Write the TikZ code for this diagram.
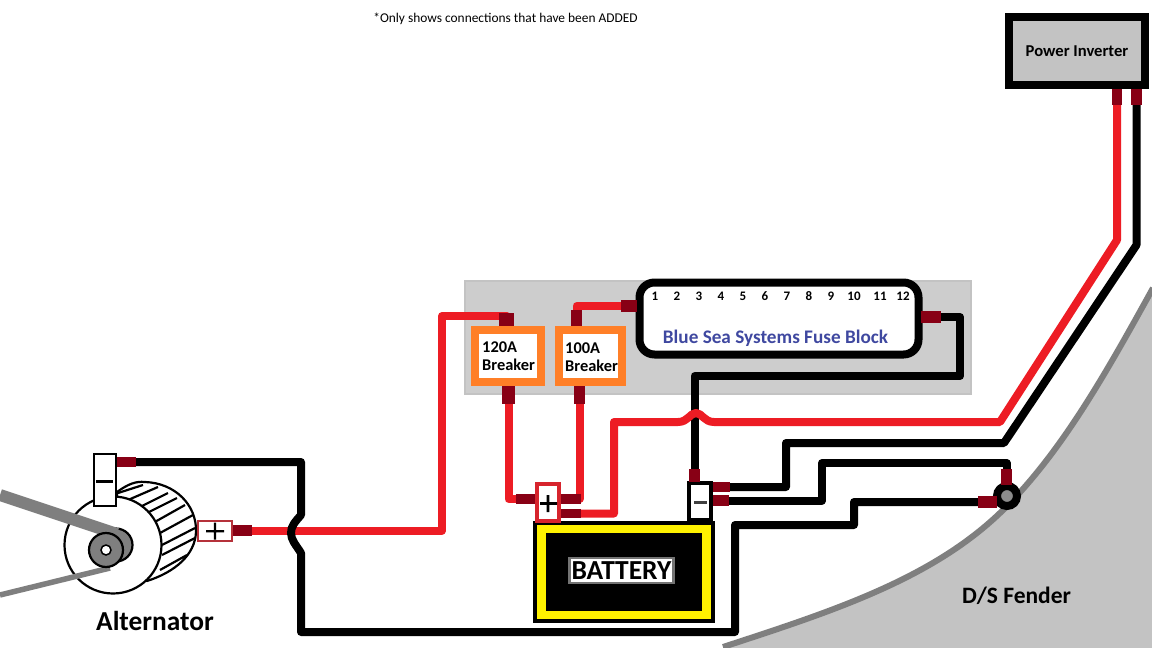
\documentclass[tikz,border=0pt]{standalone}
\usepackage{fontspec}
\setmainfont{Carlito}
\usetikzlibrary{calc}
\definecolor{termred}{HTML}{880015}
\definecolor{wirered}{HTML}{ED1C24}
\definecolor{panelgray}{HTML}{CDCDCD}
\definecolor{fendergray}{HTML}{C3C3C3}
\definecolor{banddark}{HTML}{7F7F7F}
\definecolor{brk}{HTML}{FF7F27}
\definecolor{fuseblue}{HTML}{3F48A0}
\definecolor{plusred}{HTML}{B5313A}
\pgfdeclarelayer{back}
\pgfdeclarelayer{wires}
\pgfsetlayers{back,wires,main}
\tikzset{
  term/.style={fill=termred,draw=none,inner sep=0pt,outer sep=0pt},
  redwire/.style={draw=wirered,line width=8pt,line join=round,line cap=round},
  blackwire/.style={draw=black,line width=8pt,line join=round,line cap=round},
  brkbox/.style={draw=brk,line width=8pt,fill=white,inner sep=0pt,outer sep=0pt},
  brktext/.style={font=\fontsize{16.4}{18.5}\selectfont\bfseries,align=left,inner sep=0pt,anchor=west},
  fusenum/.style={font=\fontsize{13}{13}\selectfont\bfseries,inner sep=0pt},
  hatch/.style={line width=2.2pt},
}
\newcommand{\termbox}[5]{\node[term,minimum width={(#4-#2)*1pt},minimum height={(#5-#3)*1pt}] (#1) at ({(#2+#4)/2},{(#3+#5)/2}) {};}
\begin{document}
\begin{tikzpicture}[x=1pt,y=-1pt]
\useasboundingbox (0,0) rectangle (1152,648);
% ---- background
\begin{pgfonlayer}{back}
\fill[white] (0,0) rectangle (1152,648);
\fill[fendergray] (723,648) .. controls (830,612) and (930,580) .. (1000,513) .. controls (1060,455) and (1105,375) .. (1153,288) -- (1153,649) -- (723,649) -- cycle;
\draw[banddark,line width=6pt] (723,647) .. controls (830,612) and (930,580) .. (1000,513) .. controls (1060,455) and (1105,375) .. (1153,288);
\node[draw=panelgray!95!black,fill=panelgray,line width=2pt,minimum width=506pt,minimum height=113pt,inner sep=0pt] (panel) at (718,337) {};
\end{pgfonlayer}
% ---- note
\node[font=\fontsize{13.4}{15}\selectfont,inner sep=0pt] (note) at (505.5,19) {*Only shows connections that have been ADDED};
% ---- power inverter
\node[draw=black,line width=8pt,fill=fendergray,minimum width=136pt,minimum height=68pt,inner sep=0pt,outer sep=0pt,font=\fontsize{16.6}{18}\selectfont\bfseries] (inv) at (1077,51) {\raisebox{-1pt}{Power Inverter}};
\termbox{invpos}{1112}{89}{1122}{105}
\termbox{invneg}{1131}{89}{1142}{105}
% ---- breakers
\node[brkbox,minimum width=66pt,minimum height=52pt] (b120) at (508,356) {};
\node[brktext] (b120t) at (482,356) {120A\\Breaker};
\node[brkbox,minimum width=63pt,minimum height=52pt] (b100) at (590.5,356) {};
\node[brktext] (b100t) at (565,357) {100A\\Breaker};
\termbox{b120top}{499}{313}{514}{326}
\termbox{b120bot}{502}{386}{515}{404}
\termbox{b100top}{571}{310}{582}{326}
\termbox{b100bot}{574}{386}{585}{404}
% ---- fuse block
\node[draw=black,line width=8pt,fill=white,rounded corners=15pt,minimum width=279pt,minimum height=72pt,inner sep=0pt,outer sep=0pt] (fuse) at (779,318.5) {};
\foreach \n/\xx in {1/655,2/677,3/699,4/721,5/743,6/765,7/787,8/809,9/831,10/854,11/880,12/903}
  \node[fusenum] (f\n) at (\xx,296) {\n};
\node[font=\fontsize{19.2}{21}\selectfont\bfseries,text=fuseblue,inner sep=0pt] (fuset) at (775.5,338) {Blue Sea Systems Fuse Block};
\termbox{fusein}{621}{300}{637}{312}
\termbox{fuseout}{921}{311}{941}{323}
% ---- battery
\node[draw=black,line width=4pt,fill=yellow,minimum width=178pt,minimum height=98pt,inner sep=0pt,outer sep=0pt] (batt) at (624,572) {};
\node[fill=black,minimum width=156pt,minimum height=78pt,inner sep=0pt] (battin) at (624,572) {};
\node[draw=black!55,line width=2.5pt,fill=white,minimum width=104pt,minimum height=25pt,inner sep=0pt,font=\fontsize{27.5}{29}\selectfont\bfseries] (battl) at (621.5,570.5) {BATTERY};
\node[draw=plusred!40!wirered,line width=4pt,fill=white,minimum width=22pt,minimum height=37pt,inner sep=0pt,outer sep=0pt] (bplus) at (548,502.5) {};
\fill[black] (546.7,495) rectangle (549.3,512) (540,502.2) rectangle (557,504.8);
\node[draw=black,line width=4pt,fill=white,minimum width=22pt,minimum height=37pt,inner sep=0pt,outer sep=0pt] (bminus) at (700,501.5) {};
\fill[black!75] (694,500.5) rectangle (707,503.5);
\termbox{bpL}{516}{494}{535}{504}
\termbox{bpR}{561}{494}{581}{504}
\termbox{bpR2}{561}{509}{581}{518}
\termbox{bmT}{689}{469}{700}{482}
\termbox{bmR}{713}{482}{730}{492}
\termbox{bmR2}{713}{495}{729}{506}
% ---- ground lug
\node[circle,draw=black,line width=8pt,fill=banddark!90,minimum size=20pt,inner sep=0pt,outer sep=0pt] (lug) at (1007,496) {};
\termbox{lugT}{1001}{469}{1012}{485}
\termbox{lugL}{978}{496}{997}{508}
% ---- alternator
\draw[hatch,fill=white] (117,492) .. controls (128,484) and (136,481) .. (145,482) .. controls (175,483) and (197,505) .. (196,532) .. controls (195,555) and (175,572) .. (147,581) -- (117,560) -- cycle;
\foreach \a/\b/\c/\d in {118/493/143/485,128/500/158/487,138/508/168/493,147/513/177/498,153/523/185/505,160/533/193/515,162/545/195/528,162/555/195/538,160/570/187/555}
  \draw[hatch] (\a,\b) -- (\c,\d);
\node[circle,draw=black,line width=2.2pt,fill=white,minimum size=97pt,inner sep=0pt] (altfront) at (113,545) {};
\node[circle,draw=black,line width=2.2pt,fill=banddark,minimum size=33pt,inner sep=0pt] (pulley2) at (116,545) {};
\draw[banddark,line width=12pt] (0,495) -- (117,534);
\draw[banddark,line width=5.5pt] (0,595) -- (110,568);
\node[circle,draw=black,line width=2.2pt,fill=banddark,minimum size=34pt,inner sep=0pt] (pulley) at (106,550) {};
\node[circle,draw=black,line width=1.5pt,fill=white,minimum size=10pt,inner sep=0pt] (hub) at (106,550) {};
\node[draw=black,line width=2pt,fill=white,minimum width=22pt,minimum height=52pt,inner sep=0pt,outer sep=0pt] (aminus) at (105,480) {};
\fill[black] (96,479.5) rectangle (113,482.5);
\node[draw=plusred,line width=2pt,fill=white,minimum width=34pt,minimum height=20pt,inner sep=0pt,outer sep=0pt] (aplus) at (215,531) {};
\fill[black] (213.8,522.5) rectangle (216.2,539.5) (206,530) rectangle (224,532.4);
\termbox{aposT}{233}{525}{252}{536}
\termbox{anegT}{117}{457}{136}{467}
\node[font=\fontsize{27.4}{29}\selectfont\bfseries,inner sep=0pt] (altl) at (155,620.5) {Alternator};
\node[font=\fontsize{23.5}{25}\selectfont\bfseries,inner sep=0pt] (fenl) at (1016.5,596) {D/S Fender};
% ---- wires
\begin{pgfonlayer}{wires}
\draw[blackwire] (fuseout.center) -| (960,376) -| (bmT.center);
\draw[blackwire] (bmR.center) -| (786,443) -- (1004,443) -- (1136.5,245) -- (invneg.center);
\draw[blackwire] (bmR2.center) -| (822,463) -| (lugT.center);
\draw[redwire] (bpR2.center) -| (614,422) -- (678,422) .. controls (688,422) and (690,413) .. (696,413) .. controls (702,413) and (704,422) .. (714,422) -- (1000,422) -- (1117,240) -- (invpos.center);
\draw[redwire] (aposT.center) -| (442,316) -| (b120top.center);
\draw[redwire] (b120bot.center) |- (bpL.center);
\draw[redwire] (b100bot.center) |- (bpR.center);
\draw[redwire] (fusein.center) -| (b100top.center);
\draw[blackwire] (anegT.center) -| (301,515) .. controls (295,522) and (291,526) .. (291,533) .. controls (291,540) and (296,545) .. (301,553) -- (301,632) -- (735,632) -- (735,525) -- (854,525) |- (lugL.center);
\end{pgfonlayer}
\end{tikzpicture}
\end{document}
